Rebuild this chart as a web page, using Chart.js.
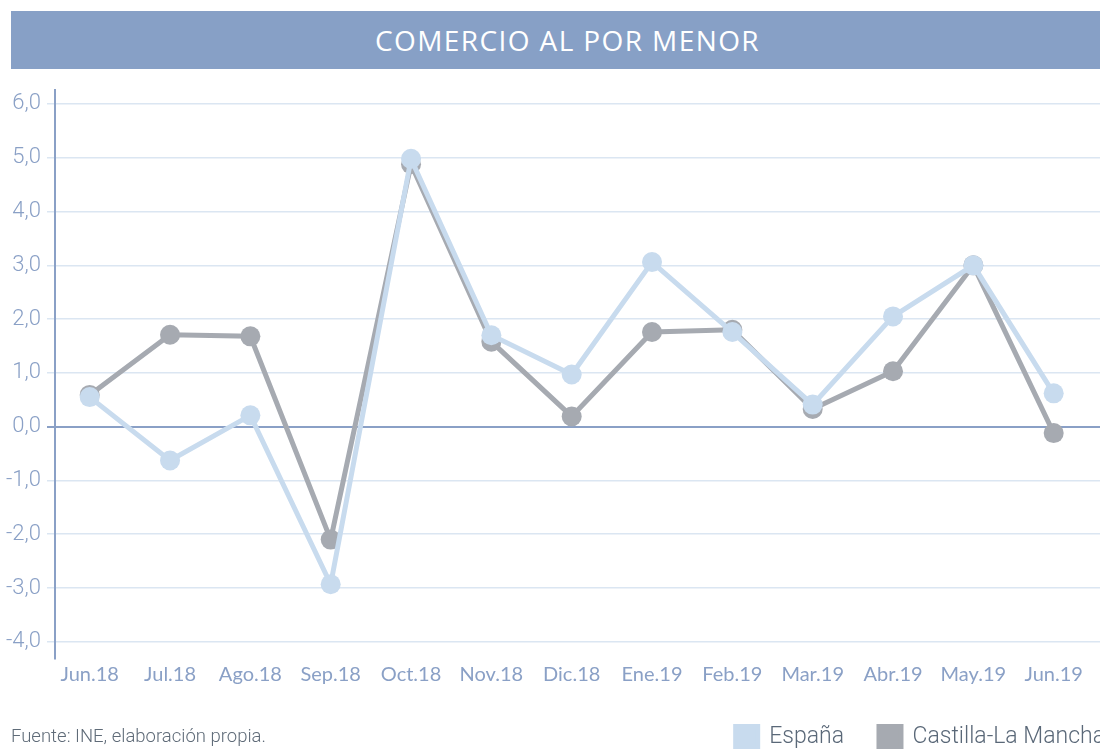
<!DOCTYPE html>
<html>
<head>
<meta charset="utf-8">
<script src="https://cdn.jsdelivr.net/npm/chart.js@4"></script>
<style>
  body { margin: 0; background: #fff; }
  #wrap { position: relative; width: 1100px; height: 749px; overflow: hidden; }
  #title-bar {
    position: absolute; left: 11px; top: 11px; width: 1089px; height: 58px;
    background: #87a0c6; color: #fff; font-family: "Open Sans", sans-serif;
    font-weight: 500; font-size: 28px; letter-spacing: 1.4px; line-height: 58px;
    text-align: center; text-indent: 24px;
  }
  #source {
    position: absolute; left: 11px; top: 725px; font-family: Roboto, sans-serif;
    font-weight: 300; font-size: 18.5px; color: #5f6b78;
  }
  #chart-box { position: absolute; left: 0; top: 0; width: 1140px; height: 749px; }
</style>
</head>
<body>
<div id="wrap">
  <div id="chart-box"><canvas id="retail-chart" width="1140" height="749"></canvas></div>
  <div id="title-bar">COMERCIO AL POR MENOR</div>
  <div id="source">Fuente: INE, elaboración propia.</div>
</div>
<script>
// datos
const months = ["Jun.18", "Jul.18", "Ago.18", "Sep.18", "Oct.18", "Nov.18", "Dic.18",
                "Ene.19", "Feb.19", "Mar.19", "Abr.19", "May.19", "Jun.19"];
const espana = [0.55, -0.63, 0.21, -2.93, 4.98, 1.70, 0.97, 3.06, 1.76, 0.41, 2.05, 3.0, 0.62];
const castilla = [0.59, 1.71, 1.68, -2.10, 4.88, 1.58, 0.19, 1.76, 1.80, 0.33, 1.03, 3.0, -0.12];
const yTicks = [-4, -3, -2, -1, 0, 1, 2, 3, 4, 5, 6];

const blueText = '#8aa0c6';

function toPoints(values) {
    return values.map((v, i) => ({ x: i, y: v }));
}

// legend box height fixed by hand so the plot keeps its size
const legendHeight = {
    id: 'legendHeight',
    beforeLayout(chart) {
        let lg = chart.legend;
        if (lg && !lg._patched) {
            let fit = lg.fit;
            lg.fit = function () { fit.call(this); this.height = 58; };
            lg._patched = true;
        }
    }
};

let ctx = document.getElementById('retail-chart').getContext('2d');

let retailChart = new Chart(ctx, {
    type: 'line',
    data: {
        datasets: [{
            label: 'España',
            data: toPoints(espana),
            borderColor: '#c8dbee',
            backgroundColor: '#c8dbee',
            pointBackgroundColor: '#c8dbee',
            borderWidth: 5,
            pointRadius: 10,
            pointBorderWidth: 0,
            fill: false
        },
        {
            label: 'Castilla-La Mancha',
            data: toPoints(castilla),
            borderColor: '#a6aab1',
            backgroundColor: '#a6aab1',
            pointBackgroundColor: '#a6aab1',
            borderWidth: 5,
            pointRadius: 10,
            pointBorderWidth: 0,
            fill: false
        }]
    },
    plugins: [legendHeight],
    options: {
        responsive: false,
        animation: false,
        layout: { padding: { top: 90, right: 0, left: 0, bottom: 0 } },
        plugins: {
            title: { display: false },
            tooltip: { enabled: false },
            legend: {
                position: 'bottom',
                align: 'end',
                labels: {
                    boxWidth: 22,
                    boxHeight: 22,
                    padding: 35,
                    color: '#5a6878',
                    font: { family: 'Roboto', size: 23, weight: 300 }
                }
            }
        },
        scales: {
            x: {
                type: 'linear',
                min: -0.432,
                max: 12.95,
                afterBuildTicks: (scale) => {
                    scale.ticks = months.map((m, i) => ({ value: i }));
                },
                afterFit: (scale) => {
                    scale.paddingLeft = 0;
                    scale.paddingRight = 0;
                },
                ticks: {
                    callback: (value) => months[value],
                    color: blueText,
                    font: { family: 'Lato', size: 20 },
                    padding: 4,
                    maxRotation: 0,
                    autoSkip: false
                },
                grid: { display: false, drawTicks: false },
                border: { display: false }
            },
            y: {
                min: -4.32,
                max: 6.26,
                afterBuildTicks: (scale) => {
                    scale.ticks = yTicks.map(v => ({ value: v }));
                },
                afterFit: (scale) => { scale.width = 55; },
                ticks: {
                    callback: (value) => value.toFixed(1).replace('.', ','),
                    color: blueText,
                    font: { family: 'Roboto', size: 22, weight: 300 },
                    padding: 6
                },
                grid: {
                    color: (c) => c.tick && c.tick.value === 0 ? '#8aa0c6' : '#dbe6f2',
                    lineWidth: (c) => c.tick && c.tick.value === 0 ? 2 : 1.5,
                    tickLength: 8
                },
                border: { display: true, color: '#8aa0c6', width: 2 }
            }
        }
    }
});
</script>
</body>
</html>
